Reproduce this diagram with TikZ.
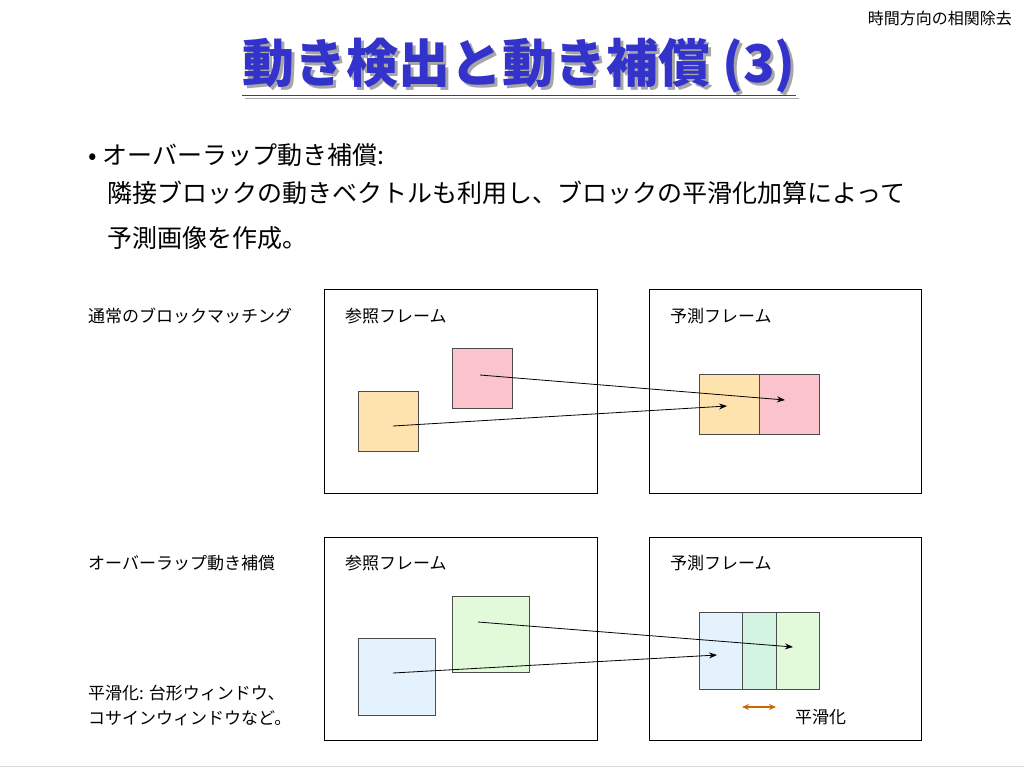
\documentclass[tikz,border=0pt]{standalone}
\usepackage{fontspec}
\setmainfont{Noto Sans CJK JP}
\usetikzlibrary{arrows.meta}
\begin{document}
\begin{tikzpicture}[x=1pt,y=-1pt,
  frame/.style={draw=black,line width=0.8pt},
  blk/.style={draw=black!70,line width=0.5pt},
  mv/.style={-{Stealth[length=8pt,width=6pt]},line width=0.8pt},
  lbl/.style={anchor=west,inner sep=0pt,font=\fontsize{17}{20}\selectfont}]
\useasboundingbox (0,0) rectangle (1024,768);
\definecolor{pk}{HTML}{FBC3CB}\definecolor{og}{HTML}{FEE3AE}
\definecolor{gr}{HTML}{E2FADA}\definecolor{bl}{HTML}{E3F2FD}\definecolor{ov}{HTML}{D3F3E3}
\definecolor{tb}{HTML}{3333CC}
\node[anchor=east,inner sep=0pt,font=\fontsize{16}{18}\selectfont] (hd) at (1012,18) {時間方向の相関除去};
\node[text=black!35,font=\fontsize{52}{58}\bfseries\selectfont] at (522,70) {\underline{動き検出と動き補償 (3)}};
\node[text=tb,font=\fontsize{52}{58}\bfseries\selectfont] (tt) at (519,67) {\underline{動き検出と動き補償 (3)}};
\node[anchor=west,inner sep=0pt,font=\fontsize{25}{30}\selectfont] (b1) at (88,155) {• オーバーラップ動き補償:};
\node[anchor=west,inner sep=0pt,font=\fontsize{25}{30}\selectfont] (b2) at (107,193) {隣接ブロックの動きベクトルも利用し、ブロックの平滑化加算によって};
\node[anchor=west,inner sep=0pt,font=\fontsize{25}{30}\selectfont] (b3) at (107,238) {予測画像を作成。};
% top row
\draw[frame] (324,289) rectangle (597,493);
\draw[frame] (649,289) rectangle (921,493);
\node[lbl] (l1) at (88,316) {通常のブロックマッチング};
\node[lbl] (l2) at (345,316) {参照フレーム};
\node[lbl] (l3) at (670,316) {予測フレーム};
\draw[blk,fill=pk] (452,348) rectangle (512,408);
\draw[blk,fill=og] (358,391) rectangle (418,451);
\draw[blk,fill=og] (699,374) rectangle (759,434);
\draw[blk,fill=pk] (759,374) rectangle (819,434);
\coordinate (a1) at (480,375); \coordinate (a2) at (785,400);
\coordinate (a3) at (393,426); \coordinate (a4) at (727,406);
\draw[mv] (a1) -- (a2); \draw[mv] (a3) -- (a4);
% bottom row
\draw[frame] (324,537) rectangle (597,740);
\draw[frame] (649,537) rectangle (921,740);
\node[lbl] (l4) at (88,563) {オーバーラップ動き補償};
\node[lbl] (l5) at (345,563) {参照フレーム};
\node[lbl] (l6) at (670,563) {予測フレーム};
\draw[blk,fill=gr] (452,596) rectangle (529,672);
\draw[blk,fill=bl] (358,638) rectangle (435,715);
\fill[bl] (699,612) rectangle (742,689);
\fill[gr] (776,612) rectangle (819,689);
\fill[ov] (742,612) rectangle (776,689);
\draw[blk] (699,612) rectangle (819,689);
\draw[blk] (742,612) -- (742,689); \draw[blk] (776,612) -- (776,689);
\coordinate (c1) at (478,622); \coordinate (c2) at (793,647);
\coordinate (c3) at (393,673); \coordinate (c4) at (717,655);
\draw[mv] (c1) -- (c2); \draw[mv] (c3) -- (c4);
\coordinate (d1) at (742,707); \coordinate (d2) at (776,707);
\draw[{Stealth[length=7pt,width=6pt]}-{Stealth[length=7pt,width=6pt]},draw=orange!80!black,line width=1.5pt] (d1) -- (d2);
\node[lbl] (l7) at (795,717) {平滑化};
\node[lbl] (l8) at (88,693) {平滑化: 台形ウィンドウ、};
\node[lbl] (l9) at (88,718) {コサインウィンドウなど。};
\draw[black!15,line width=1pt] (0,766) -- (1024,766);
\end{tikzpicture}
\end{document}
